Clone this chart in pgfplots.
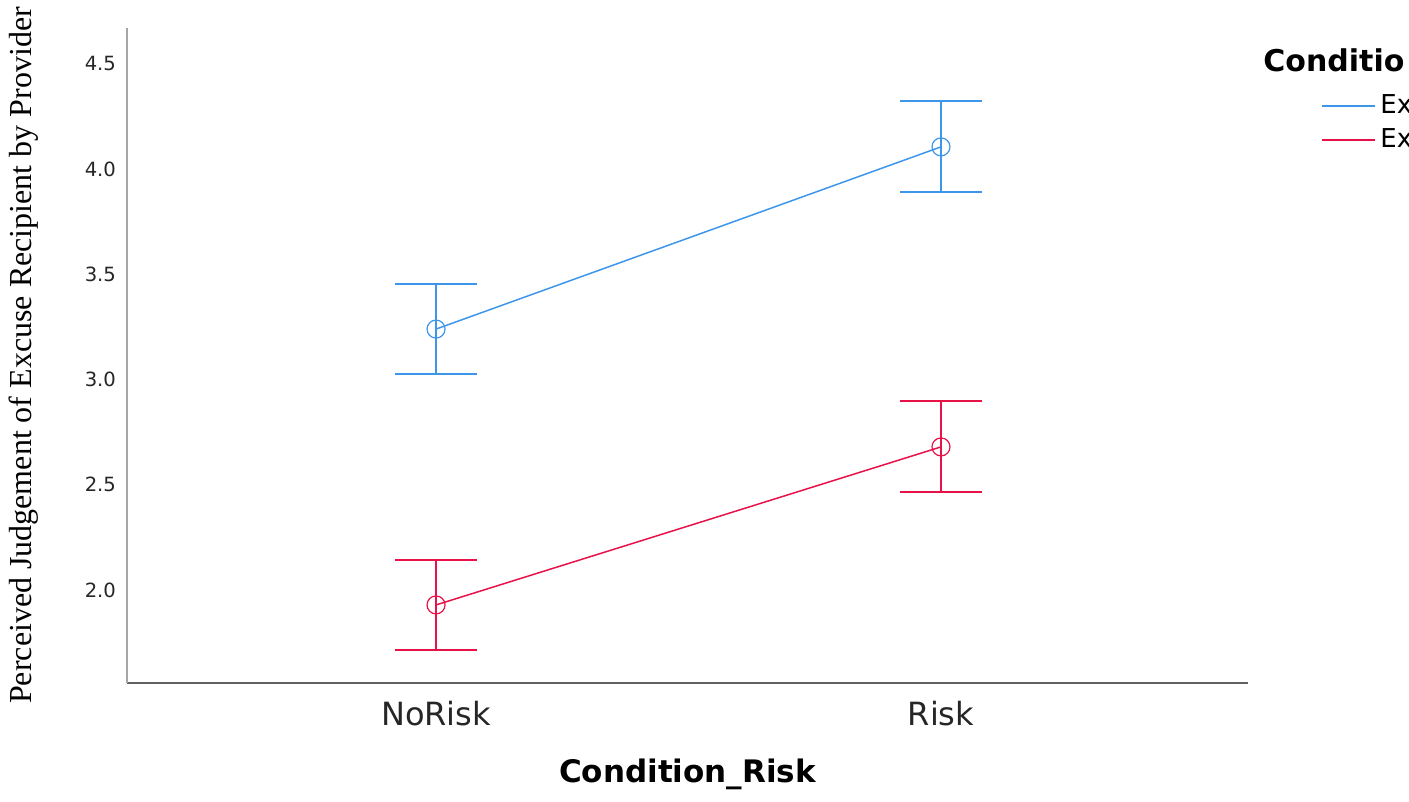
\documentclass[border=0pt]{standalone}
\usepackage{pgfplots}
\pgfplotsset{compat=1.18}
\usepackage{fontspec}
\setmainfont{DejaVu Sans}
\newfontfamily\timesfont{Liberation Serif}
\definecolor{spssblue}{RGB}{62,150,235}
\definecolor{spssred}{RGB}{232,18,72}
\begin{document}
\begin{tikzpicture}
\useasboundingbox (-63.5pt,-59.5pt) rectangle (641pt,341.5pt);
\begin{axis}[
  at={(0,0)}, anchor=south west,
  scale only axis, width=560.5pt, height=327.5pt,
  xmin=-0.612, xmax=1.608, ymin=1.558, ymax=4.671,
  axis x line*=bottom, axis y line*=left,
  x axis line style={-, black!62, line width=1pt},
  y axis line style={-, black!35, line width=1pt},
  major tick length=0pt,
  xtick={0,1}, xticklabels={NoRisk,Risk},
  ytick={2.0,2.5,3.0,3.5,4.0,4.5},
  yticklabel style={/pgf/number format/fixed, /pgf/number format/precision=1, /pgf/number format/fixed zerofill, /pgf/number format/assume math mode=true, font=\fontsize{9.8}{11}\selectfont, text=black!85},
  xticklabel style={font=\fontsize{16}{18}\selectfont, text=black!85, yshift=-5.5pt},
  yticklabel shift=2pt,
  xlabel={\bfseries Condition\_Risk},
  xlabel style={font=\fontsize{15.5}{18}\selectfont, at={(axis description cs:0.5,0)}, anchor=base, yshift=-50pt},
  ylabel={\timesfont Perceived Judgement of Excuse Recipient by Provider},
  ylabel style={font=\fontsize{16}{18}\selectfont, at={(axis description cs:-0.0919,0.5)}, anchor=center},
  clip=false,
  legend style={draw=none, fill=none, at={(axis description cs:1.0651,0.905)}, anchor=north west, font=\fontsize{13}{15}\selectfont, inner sep=0pt, row sep=2pt, cells={anchor=west}},
  legend image code/.code={\draw[#1, line width=1pt] (0pt,0pt) -- (26.5pt,0pt);},
  legend cell align=left,
]
\addlegendimage{spssblue}
\addlegendentry{Ex}
\addlegendimage{spssred}
\addlegendentry{Ex}
\addplot[spssblue, line width=0.75pt, mark=o, mark size=4.5pt, mark options={line width=0.6pt},
  error bars/.cd, y dir=both, y explicit,
  error bar style={line width=1pt},
  error mark options={rotate=90, mark size=20.5pt, line width=1pt}]
  coordinates {
  (0,3.240) += (0,0.214) -= (0,0.213)
  (1,4.106) += (0,0.218) -= (0,0.214)
};
\addplot[spssred, line width=0.75pt, mark=o, mark size=4.5pt, mark options={line width=0.6pt},
  error bars/.cd, y dir=both, y explicit,
  error bar style={line width=1pt},
  error mark options={rotate=90, mark size=20.5pt, line width=1pt}]
  coordinates {
  (0,1.929) += (0,0.214) -= (0,0.214)
  (1,2.680) += (0,0.218) -= (0,0.214)
};
\node[anchor=base west, inner sep=0pt, font=\fontsize{15}{18}\selectfont\bfseries] at (axis description cs:1.0134,0.9333) {Conditio};
\end{axis}
\end{tikzpicture}
\end{document}
